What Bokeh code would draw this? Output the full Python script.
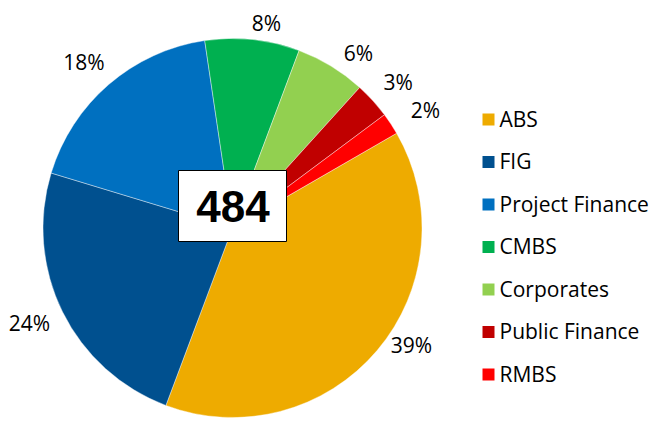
import numpy as np
from bokeh.plotting import figure
from bokeh.models import ColumnDataSource, Range1d
from bokeh.core.properties import value
from bokeh.embed import file_html
from bokeh.resources import INLINE

# ---- data ----
categories = ["ABS", "FIG", "Project Finance", "CMBS", "Corporates", "Public Finance", "RMBS"]
counts = [189, 116, 87, 39, 29, 15, 9]
pct_labels = ["39%", "24%", "18%", "8%", "6%", "3%", "2%"]
total_label = "484"
colors = ["#EEAB00", "#00508F", "#0070C0", "#00B050", "#92D050", "#C00000", "#FF0000"]

W, H = 658, 440
p = figure(width=W, height=H, output_backend="svg", toolbar_location=None,
           x_range=Range1d(0, W), y_range=Range1d(0, H), min_border=0)
p.axis.visible = False
p.grid.visible = False
p.outline_line_color = None
p.background_fill_color = "white"

def Y(y):
    return H - y

cx, cy, R = 232, Y(227.5), 189.5
start_deg = 30.0
vals = np.array(counts, dtype=float)
frac = vals / vals.sum()
cum = np.concatenate([[0], np.cumsum(frac)]) * 360.0
starts = np.radians(start_deg - cum[:-1])
ends = np.radians(start_deg - cum[1:])
mids = (starts + ends) / 2

src = ColumnDataSource(dict(start=starts, end=ends, color=colors))
p.wedge(x=cx, y=cy, radius=R, start_angle="start", end_angle="end",
        direction="clock", fill_color="color", line_color="white", line_width=0.4,
        source=src)

FONT = "Open Sans"
FS = "21px"

# percentage labels (layout nudges)
lab_r = [214, 224, 223, 208, 216, 221, 226]
lab_nudge = np.radians([7.0, -1.3, 1.0, -3.3, -4.3, -0.8, -2.0])
la = mids + lab_nudge
lx = cx + np.array(lab_r) * np.cos(la)
ly = cy + np.array(lab_r) * np.sin(la)
p.text(x=lx, y=ly, text=pct_labels, text_align="center", text_baseline="middle",
       text_font=value(FONT), text_font_size=FS, text_color="black")

# center box
p.quad(left=178, right=286, top=Y(170), bottom=Y(241), fill_color="white",
       line_color="black", line_width=1)
p.text(x=[232.5], y=[Y(206)], text=[total_label], text_align="center", text_baseline="middle",
       text_font=value("Liberation Sans"), text_font_style="bold", text_font_size="44px",
       text_color="black")

# legend
ly0, dy = 118, 42.5
leg_y = [Y(ly0 + i * dy) for i in range(len(categories))]
p.rect(x=[488] * len(categories), y=[Y(119 + i * dy) for i in range(len(categories))],
       width=12, height=12, fill_color=colors, line_color=None)
p.text(x=[499] * len(categories), y=leg_y, text=categories, text_align="left",
       text_baseline="middle", text_font=value(FONT), text_font_size=FS,
       text_color="black")

open("out.html", "w").write(file_html(p, INLINE))
